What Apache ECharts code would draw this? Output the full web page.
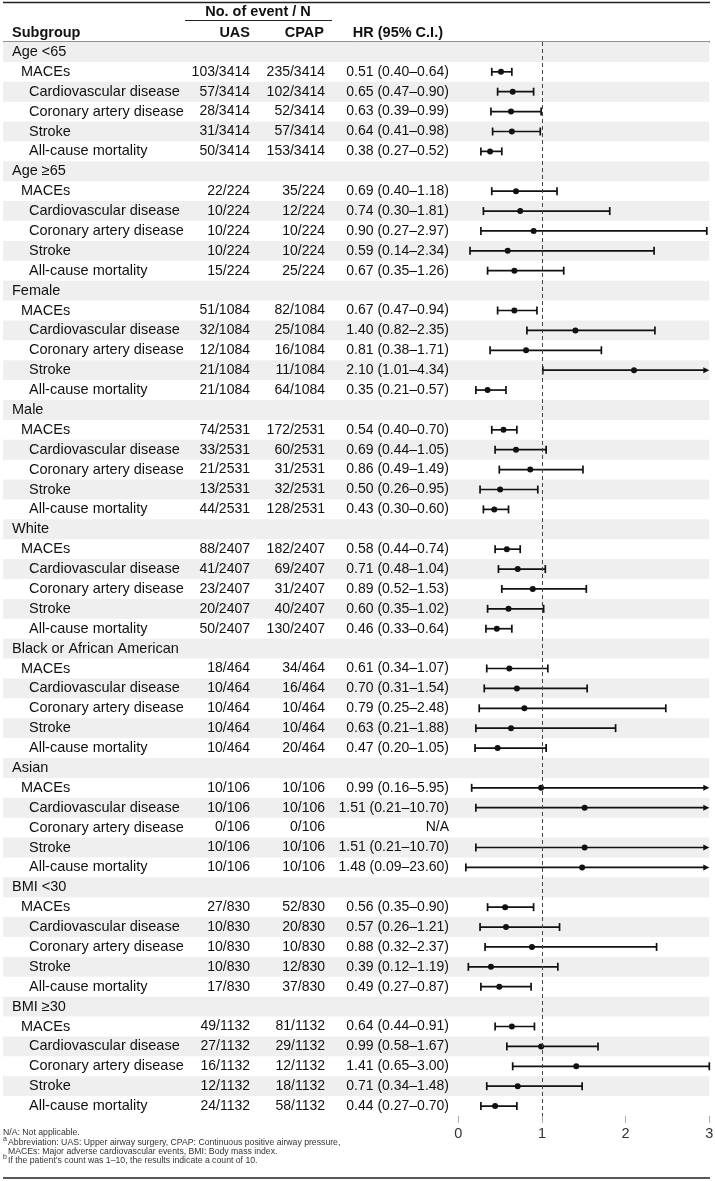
<!DOCTYPE html>
<html><head><meta charset="utf-8">
<script src="https://cdn.jsdelivr.net/npm/echarts@6/dist/echarts.min.js"></script>
<style>html,body{margin:0;padding:0;background:#fff}#c{width:715px;height:1181px}</style>
</head><body><div id="c"></div>
<script>
const groups = ['Age <65','Age \u226565','Female','Male','White','Black or African American','Asian','BMI <30','BMI \u226530'];
const outcomes = ['MACEs','Cardiovascular disease','Coronary artery disease','Stroke','All-cause mortality'];
const groupN = [3414, 224, 1084, 2531, 2407, 464, 106, 830, 1132];
const uasEvents = [
  [103,57,28,31,50],[22,10,10,10,15],[51,32,12,21,21],[74,33,21,13,44],[88,41,23,20,50],
  [18,10,10,10,10],[10,10,0,10,10],[27,10,10,10,17],[49,27,16,12,24]];
const cpapEvents = [
  [235,102,52,57,153],[35,12,10,10,25],[82,25,16,11,64],[172,60,31,32,128],[182,69,31,40,130],
  [34,16,10,10,20],[10,10,0,10,10],[52,20,10,12,37],[81,29,12,18,58]];
const hr = [
  [0.51,0.65,0.63,0.64,0.38],[0.69,0.74,0.90,0.59,0.67],[0.67,1.40,0.81,2.10,0.35],[0.54,0.69,0.86,0.50,0.43],
  [0.58,0.71,0.89,0.60,0.46],[0.61,0.70,0.79,0.63,0.47],[0.99,1.51,null,1.51,1.48],[0.56,0.57,0.88,0.39,0.49],[0.64,0.99,1.41,0.71,0.44]];
const hrLow = [
  [0.40,0.47,0.39,0.41,0.27],[0.40,0.30,0.27,0.14,0.35],[0.47,0.82,0.38,1.01,0.21],[0.40,0.44,0.49,0.26,0.30],
  [0.44,0.48,0.52,0.35,0.33],[0.34,0.31,0.25,0.21,0.20],[0.16,0.21,null,0.21,0.09],[0.35,0.26,0.32,0.12,0.27],[0.44,0.58,0.65,0.34,0.27]];
const hrHigh = [
  [0.64,0.90,0.99,0.98,0.52],[1.18,1.81,2.97,2.34,1.26],[0.94,2.35,1.71,4.34,0.57],[0.70,1.05,1.49,0.95,0.60],
  [0.74,1.04,1.53,1.02,0.64],[1.07,1.54,2.48,1.88,1.05],[5.95,10.70,null,10.70,23.60],[0.90,1.21,2.37,1.19,0.87],[0.91,1.67,3.00,1.48,0.70]];
const xTicks = [0, 1, 2, 3];

const FONT = '"Liberation Sans", Arial, Helvetica, sans-serif';
const AX_MIN = 0, AX_MAX = 3;

// build rows
const rows = [];
groups.forEach((g, gi) => {
  rows.push({label: g, level: 0});
  outcomes.forEach((o, oi) => {
    const h = hr[gi][oi];
    rows.push({
      label: o, level: oi === 0 ? 1 : 2,
      uas: uasEvents[gi][oi] + '/' + groupN[gi],
      cpap: cpapEvents[gi][oi] + '/' + groupN[gi],
      hrText: h == null ? 'N/A' : h.toFixed(2) + ' (' + hrLow[gi][oi].toFixed(2) + '\u2013' + hrHigh[gi][oi].toFixed(2) + ')',
      est: h, lo: hrLow[gi][oi], hi: hrHigh[gi][oi]
    });
  });
});
const rowNames = rows.map((r, i) => String(i));
const indentX = [12, 21, 29];

const bandData = rows.map((r, i) => [0, i]).filter((d, i) => i % 2 === 0);
const textData = rows.map((r, i) => [0, i]);
const ciData = [];
rows.forEach((r, i) => { if (r.est != null) ciData.push([r.est, i, r.lo, r.hi]); });

function txt(text, x, y, align, opts) {
  opts = opts || {};
  return {type: 'text', silent: true, style: {
    text: text, x: x, y: y, align: align, textAlign: align, verticalAlign: 'middle', textVerticalAlign: 'middle',
    fill: opts.fill || '#111', fontSize: opts.size || 14, fontWeight: opts.weight || 'normal', fontFamily: FONT
  }};
}

const chart = echarts.init(document.getElementById('c'), null, {renderer: 'canvas'});
const option = {
  backgroundColor: '#fff',
  animation: false,
  grid: {left: 458.3, top: 42, width: 251, height: 1074, containLabel: false, outerBoundsMode: 'none'},
  xAxis: {
    type: 'value', min: AX_MIN, max: AX_MAX, interval: 1,
    axisLine: {show: false},
    axisTick: {show: true, length: 7, lineStyle: {color: '#aaaaaa', width: 1}},
    axisLabel: {color: '#333', fontSize: 14.5, fontFamily: FONT, margin: 10,
      formatter: v => xTicks.indexOf(v) >= 0 ? String(v) : ''},
    splitLine: {show: false}
  },
  yAxis: {type: 'category', data: rowNames, inverse: true, show: false},
  series: [
    {
      type: 'custom', name: 'bands', z: 0, clip: false, silent: true,
      data: bandData,
      renderItem: (params, api) => {
        const i = api.value(1);
        const y = api.coord([0, i])[1];
        const h = api.size([0, 1])[1];
        const xr = api.coord([AX_MAX, i])[0];
        return {type: 'rect', shape: {x: 3, y: y - h / 2, width: xr - 3, height: h}, style: {fill: '#eeefee'}};
      }
    },
    {
      type: 'custom', name: 'texts', z: 3, clip: false, silent: true,
      data: textData,
      renderItem: (params, api) => {
        const i = api.value(1);
        const r = rows[i];
        const y = api.coord([0, i])[1];
        const children = [txt(r.label, indentX[r.level], y, 'left', {size: 14.5})];
        if (r.level > 0) {
          children.push(txt(r.uas, 250, y, 'right'));
          children.push(txt(r.cpap, 325, y, 'right'));
          children.push(txt(r.hrText, 449, y, 'right'));
        }
        return {type: 'group', children: children};
      }
    },
    {
      type: 'custom', name: 'ci', z: 4, clip: false, silent: true,
      data: ciData,
      renderItem: (params, api) => {
        const est = api.value(0), i = api.value(1), lo = api.value(2), hi = api.value(3);
        const y = api.coord([0, i])[1];
        const xl = api.coord([Math.max(lo, AX_MIN), i])[0];
        const xmax = api.coord([AX_MAX, i])[0];
        const over = hi > AX_MAX;
        const xh = api.coord([Math.min(hi, AX_MAX), i])[0];
        const xe = api.coord([est, i])[0];
        const st = {stroke: '#111', lineWidth: 1.7};
        const ch = [];
        ch.push({type: 'line', shape: {x1: xl, y1: y, x2: over ? xmax - 4 : xh, y2: y}, style: st});
        ch.push({type: 'line', shape: {x1: xl, y1: y - 4, x2: xl, y2: y + 4}, style: st});
        if (over) {
          ch.push({type: 'polygon', shape: {points: [[xmax, y], [xmax - 6, y - 3], [xmax - 6, y + 3]]}, style: {fill: '#111'}});
        } else {
          ch.push({type: 'line', shape: {x1: xh, y1: y - 4, x2: xh, y2: y + 4}, style: st});
        }
        ch.push({type: 'circle', shape: {cx: xe, cy: y, r: 3}, style: {fill: '#111'}});
        return {type: 'group', children: ch};
      }
    },
    {
      type: 'line', name: 'ref', data: [], z: 2, silent: true,
      markLine: {
        silent: true, symbol: 'none', animation: false,
        label: {show: false},
        lineStyle: {type: [4, 3], color: '#444', width: 1},
        data: [{xAxis: 1}]
      }
    }
  ],
  graphic: [
    {type: 'line', shape: {x1: 3, y1: 2.5, x2: 710, y2: 2.5}, style: {stroke: '#222', lineWidth: 1.5}},
    txt('No. of event / N', 258, 11.5, 'center', {weight: 'bold', size: 14.5}),
    {type: 'line', shape: {x1: 185, y1: 20.5, x2: 332, y2: 20.5}, style: {stroke: '#222', lineWidth: 1}},
    txt('Subgroup', 12, 32.5, 'left', {weight: 'bold', size: 14.5}),
    txt('UAS', 250, 32.5, 'right', {weight: 'bold', size: 14.5}),
    txt('CPAP', 324, 32.5, 'right', {weight: 'bold', size: 14.5}),
    txt('HR (95% C.I.)', 443, 32.5, 'right', {weight: 'bold', size: 14.5}),
    {type: 'line', shape: {x1: 3, y1: 42, x2: 710, y2: 42}, style: {stroke: '#222', lineWidth: 1}},
    txt('N/A: Not applicable.', 3, 1133, 'left', {size: 8.7, fill: '#333'}),
    txt('a', 3, 1139, 'left', {size: 7, fill: '#333'}),
    txt('Abbreviation: UAS: Upper airway surgery, CPAP: Continuous positive airway pressure,', 8, 1143, 'left', {size: 8.7, fill: '#333'}),
    txt('MACEs: Major adverse cardiovascular events, BMI: Body mass index.', 8, 1152, 'left', {size: 8.7, fill: '#333'}),
    txt('b', 3, 1157, 'left', {size: 7, fill: '#333'}),
    txt('If the patient\u2019s count was 1\u201310, the results indicate a count of 10.', 8, 1161, 'left', {size: 8.7, fill: '#333'}),
    {type: 'line', shape: {x1: 3, y1: 1178, x2: 710, y2: 1178}, style: {stroke: '#222', lineWidth: 1.5}}
  ]
};
chart.setOption(option);
</script></body></html>
